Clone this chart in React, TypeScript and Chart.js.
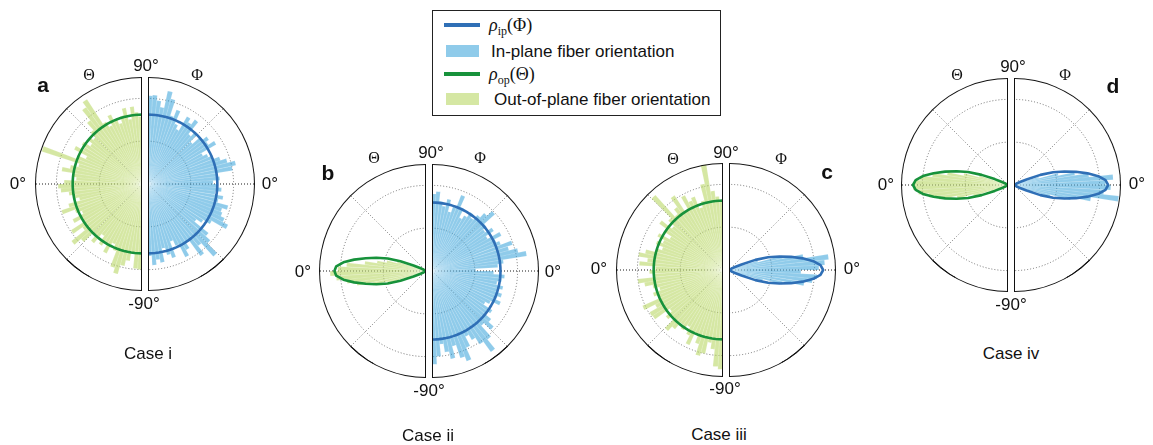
import React, { useEffect, useRef } from 'react';
import { Chart, registerables } from 'chart.js';

Chart.register(...registerables);

// ---------------- categories ----------------
// 120 clockwise bins of 3°, starting at the top of the polar plot.
const BIN_COUNT = 120;
const angleLabels: string[] = Array.from({ length: BIN_COUNT }, (_, i) => `${i * 3}°`);

// ---------------- data ----------------
// Φ histograms (in-plane): 60 bins, from Φ = +88.5° down to Φ = -88.5° (3° bins)
const aPhiHist = [1.03, 1.04, 0.98, 0.91, 1.11, 1.03, 0.84, 0.93, 0.77, 0.72, 0.91, 0.86, 0.93, 0.75, 0.82, 0.70, 0.82, 0.88, 0.84, 0.92, 0.72, 0.77, 0.82, 0.89, 0.96, 1.05, 1.00, 0.82, 0.84, 0.76,
  0.82, 0.86, 0.79, 0.89, 0.84, 0.97, 0.91, 0.93, 0.98, 1.05, 0.86, 0.77, 0.70, 0.91, 0.98, 1.14, 0.93, 1.04, 0.82, 0.89, 0.96, 0.79, 0.72, 0.91, 0.86, 0.77, 0.93, 0.89, 0.95, 0.84];
const bPhiHist = [0.90, 0.93, 0.82, 0.77, 0.86, 0.72, 0.79, 0.95, 0.82, 0.70, 0.75, 0.82, 0.77, 0.84, 0.91, 0.99, 0.82, 0.77, 0.86, 0.75, 0.91, 0.82, 0.86, 0.99, 0.93, 1.03, 1.12, 0.84, 0.77, 0.51,
  0.72, 0.85, 0.82, 0.77, 0.85, 0.79, 0.86, 0.82, 0.88, 0.77, 0.72, 0.84, 0.79, 0.89, 0.97, 0.86, 1.03, 1.17, 1.02, 0.93, 0.86, 0.98, 1.13, 1.07, 0.91, 1.05, 0.96, 0.86, 1.00, 1.09];
const cPhiHist = [0, 0, 0, 0, 0, 0, 0, 0, 0, 0, 0, 0, 0, 0, 0, 0, 0, 0, 0, 0, 0, 0,
  0.06, 0.18, 0.35, 0.64, 0.88, 1.17, 1.12, 1.05, 0.84, 1.03, 0.98, 0.89, 0.64, 0.41, 0.21, 0.07,
  0, 0, 0, 0, 0, 0, 0, 0, 0, 0, 0, 0, 0, 0, 0, 0, 0, 0, 0, 0, 0, 0];
const dPhiHist = [0, 0, 0, 0, 0, 0, 0, 0, 0, 0, 0, 0, 0, 0, 0, 0, 0, 0, 0, 0, 0, 0,
  0.05, 0.14, 0.30, 0.53, 0.72, 0.88, 1.16, 1.07, 1.13, 1.05, 1.23, 0.91, 0.68, 0.44, 0.23, 0.08,
  0, 0, 0, 0, 0, 0, 0, 0, 0, 0, 0, 0, 0, 0, 0, 0, 0, 0, 0, 0, 0, 0];

// Θ histograms (out-of-plane): 60 bins, from Θ = -88.5° up to Θ = +88.5° (3° bins)
const aThetaHist = [1.00, 0.99, 0.82, 0.91, 0.98, 1.09, 1.03, 0.84, 0.77, 0.91, 0.82, 0.86, 0.75, 0.89, 0.82, 0.96, 1.06, 0.86, 0.99, 0.82, 0.91, 0.77, 0.84, 0.99, 0.89, 0.75, 0.81, 0.86, 0.95, 0.98,
  0.91, 0.77, 0.82, 0.95, 0.86, 0.77, 1.23, 0.82, 0.72, 0.89, 0.79, 0.84, 0.75, 0.82, 0.77, 0.85, 0.96, 1.11, 1.18, 0.84, 0.77, 0.89, 0.82, 0.75, 0.83, 0.91, 0.77, 0.91, 0.84, 0.79];
const bThetaHist = [0, 0, 0, 0, 0, 0, 0, 0, 0, 0, 0, 0, 0, 0, 0, 0, 0, 0, 0, 0, 0,
  0.04, 0.09, 0.26, 0.47, 0.64, 0.82, 0.93, 1.05, 1.12, 1.03, 0.93, 0.72, 0.58, 0.47, 0.35, 0.18, 0.07,
  0, 0, 0, 0, 0, 0, 0, 0, 0, 0, 0, 0, 0, 0, 0, 0, 0, 0, 0, 0, 0, 0];
const cThetaHist = [1.16, 1.13, 0.93, 0.86, 1.00, 1.04, 0.91, 0.82, 0.96, 0.86, 0.77, 0.84, 0.79, 0.89, 0.96, 0.82, 0.86, 0.77, 0.98, 0.99, 0.89, 1.03, 0.82, 0.86, 0.77, 0.84, 0.93, 1.00, 0.82, 0.86,
  0.79, 0.98, 0.89, 1.00, 0.93, 0.82, 0.75, 0.84, 0.77, 0.86, 0.72, 0.82, 0.92, 0.77, 0.86, 1.18, 0.84, 0.91, 1.04, 0.82, 0.98, 0.89, 0.92, 0.77, 0.84, 1.03, 1.25, 0.93, 0.86, 0.82];
const dThetaHist = [0, 0, 0, 0, 0, 0, 0, 0, 0, 0, 0, 0, 0, 0, 0, 0, 0, 0, 0, 0, 0, 0,
  0.07, 0.21, 0.42, 0.61, 0.82, 0.93, 1.05, 1.11, 1.10, 1.03, 0.89, 0.72, 0.53, 0.35, 0.16, 0.06,
  0, 0, 0, 0, 0, 0, 0, 0, 0, 0, 0, 0, 0, 0, 0, 0, 0, 0, 0, 0, 0, 0];

// ρ curves: 61 samples every 3°. ρ_ip from Φ = +90° to -90°, ρ_op from Θ = -90° to +90°
const aPhiRho = [0.81, 0.81, 0.81, 0.81, 0.81, 0.81, 0.81, 0.81, 0.81, 0.81, 0.81, 0.81, 0.81, 0.81, 0.81, 0.81, 0.81, 0.81, 0.81, 0.81,
  0.81, 0.81, 0.81, 0.81, 0.81, 0.81, 0.81, 0.81, 0.81, 0.81, 0.81, 0.81, 0.81, 0.81, 0.81, 0.81, 0.81, 0.81, 0.81, 0.81,
  0.81, 0.81, 0.81, 0.81, 0.81, 0.81, 0.81, 0.81, 0.81, 0.81, 0.81, 0.81, 0.81, 0.81, 0.81, 0.81, 0.81, 0.81, 0.81, 0.81, 0.81];
const aThetaRho = [0.81, 0.81, 0.81, 0.81, 0.81, 0.81, 0.81, 0.81, 0.81, 0.81, 0.81, 0.81, 0.81, 0.81, 0.81, 0.81, 0.81, 0.81, 0.81, 0.81,
  0.81, 0.81, 0.81, 0.81, 0.81, 0.81, 0.81, 0.81, 0.81, 0.81, 0.81, 0.81, 0.81, 0.81, 0.81, 0.81, 0.81, 0.81, 0.81, 0.81,
  0.81, 0.81, 0.81, 0.81, 0.81, 0.81, 0.81, 0.81, 0.81, 0.81, 0.81, 0.81, 0.81, 0.81, 0.81, 0.81, 0.81, 0.81, 0.81, 0.81, 0.81];
const bPhiRho = [0.80, 0.80, 0.80, 0.80, 0.80, 0.80, 0.80, 0.80, 0.80, 0.80, 0.80, 0.80, 0.80, 0.80, 0.80, 0.80, 0.80, 0.80, 0.80, 0.80,
  0.80, 0.80, 0.80, 0.80, 0.80, 0.80, 0.80, 0.80, 0.80, 0.80, 0.80, 0.80, 0.80, 0.80, 0.80, 0.80, 0.80, 0.80, 0.80, 0.80,
  0.80, 0.80, 0.80, 0.80, 0.80, 0.80, 0.80, 0.80, 0.80, 0.80, 0.80, 0.80, 0.80, 0.80, 0.80, 0.80, 0.80, 0.80, 0.80, 0.80, 0.80];
const bThetaRho = [0, 0, 0, 0, 0, 0, 0, 0, 0, 0, 0, 0, 0, 0, 0, 0, 0, 0, 0, 0,
  0.02, 0.07, 0.16, 0.32, 0.47, 0.60, 0.72, 0.85, 0.97, 1.05, 1.07, 1.05, 0.97, 0.85, 0.72, 0.60, 0.47, 0.32, 0.16, 0.07, 0.02,
  0, 0, 0, 0, 0, 0, 0, 0, 0, 0, 0, 0, 0, 0, 0, 0, 0, 0, 0, 0];
const cPhiRho = [0, 0, 0, 0, 0, 0, 0, 0, 0, 0, 0, 0, 0, 0, 0, 0, 0, 0, 0, 0,
  0.02, 0.07, 0.16, 0.33, 0.48, 0.61, 0.74, 0.87, 0.99, 1.07, 1.10, 1.07, 0.99, 0.87, 0.74, 0.61, 0.48, 0.33, 0.16, 0.07, 0.02,
  0, 0, 0, 0, 0, 0, 0, 0, 0, 0, 0, 0, 0, 0, 0, 0, 0, 0, 0, 0];
const cThetaRho = [0.81, 0.81, 0.81, 0.81, 0.81, 0.81, 0.81, 0.81, 0.81, 0.81, 0.81, 0.81, 0.81, 0.81, 0.81, 0.81, 0.81, 0.81, 0.81, 0.81,
  0.81, 0.81, 0.81, 0.81, 0.81, 0.81, 0.81, 0.81, 0.81, 0.81, 0.81, 0.81, 0.81, 0.81, 0.81, 0.81, 0.81, 0.81, 0.81, 0.81,
  0.81, 0.81, 0.81, 0.81, 0.81, 0.81, 0.81, 0.81, 0.81, 0.81, 0.81, 0.81, 0.81, 0.81, 0.81, 0.81, 0.81, 0.81, 0.81, 0.81, 0.81];
const dPhiRho = [0, 0, 0, 0, 0, 0, 0, 0, 0, 0, 0, 0, 0, 0, 0, 0, 0, 0, 0, 0,
  0.02, 0.07, 0.16, 0.33, 0.48, 0.61, 0.74, 0.87, 0.99, 1.07, 1.10, 1.07, 0.99, 0.87, 0.74, 0.61, 0.48, 0.33, 0.16, 0.07, 0.02,
  0, 0, 0, 0, 0, 0, 0, 0, 0, 0, 0, 0, 0, 0, 0, 0, 0, 0, 0, 0];
const dThetaRho = [0, 0, 0, 0, 0, 0, 0, 0, 0, 0, 0, 0, 0, 0, 0, 0, 0, 0, 0, 0,
  0.02, 0.07, 0.17, 0.33, 0.49, 0.62, 0.75, 0.88, 1.00, 1.08, 1.11, 1.08, 1.00, 0.88, 0.75, 0.62, 0.49, 0.33, 0.17, 0.07, 0.02,
  0, 0, 0, 0, 0, 0, 0, 0, 0, 0, 0, 0, 0, 0, 0, 0, 0, 0, 0, 0];

const caseNames = ['Case i', 'Case ii', 'Case iii', 'Case iv'];
const caseLetters = ['a', 'b', 'c', 'd'];

// ---------------- styles ----------------
const IP_LINE = '#2f6fb6';
const OP_LINE = '#17923b';
const IP_BAR = 'rgba(40,155,215,0.52)';
const OP_BAR = 'rgba(178,212,88,0.55)';
const SANS = '"Liberation Sans", Arial, Helvetica, sans-serif';
const SERIF = '"Liberation Serif", "DejaVu Serif", "Times New Roman", serif';
const R = 107;
const R_MAX = 1.25;

type Side = 'L' | 'R';

function HalfPolar(props: { side: Side; cx: number; cy: number; hist: number[]; rho: number[]; barColor: string; lineColor: string }) {
  const { side, cx, cy, hist, rho, barColor, lineColor } = props;
  const ref = useRef<HTMLCanvasElement | null>(null);

  useEffect(() => {
    const canvas = ref.current;
    if (!canvas) return;
    const bars: number[] = new Array(BIN_COUNT).fill(0);
    const line: (number | null)[] = new Array(BIN_COUNT).fill(null);
    if (side === 'R') {
      for (let i = 0; i < 60; i++) bars[i] = hist[i];
      for (let i = 0; i <= 60; i++) line[i] = rho[i];
    } else {
      for (let j = 0; j < 60; j++) bars[60 + j] = hist[j];
      for (let k = 0; k <= 60; k++) line[(60 + k) % BIN_COUNT] = rho[k];
    }
    const chart = new Chart(canvas, {
      type: 'polarArea',
      data: {
        labels: angleLabels,
        datasets: [
          {
            type: 'radar',
            data: line,
            borderColor: lineColor,
            borderWidth: 2.6,
            pointRadius: 0,
            pointHoverRadius: 0,
            fill: false,
            tension: 0,
            spanGaps: false,
            borderJoinStyle: 'round',
            borderCapStyle: 'round',
          },
          {
            type: 'polarArea',
            data: bars,
            backgroundColor: barColor,
            borderColor: 'rgba(255,255,255,0.5)',
            borderWidth: 0.25,
          },
        ],
      } as any,
      options: {
        responsive: false,
        maintainAspectRatio: false,
        animation: false,
        events: [],
        layout: { padding: 0 },
        plugins: { legend: { display: false }, tooltip: { enabled: false } },
        scales: {
          r: {
            min: 0,
            max: R_MAX,
            startAngle: 0,
            ticks: { display: false, stepSize: 0.25 },
            pointLabels: { display: false },
            grid: {
              circular: true,
              lineWidth: 1,
              color: (c: any) => {
                const v = c.tick ? c.tick.value : 0;
                return Math.abs(v - 0.5) < 1e-6 || Math.abs(v - 1) < 1e-6 ? '#6f6f6f' : 'rgba(0,0,0,0)';
              },
            },
            border: { dash: [1, 2] },
            angleLines: {
              display: true,
              color: (c: any) => (c.index === 30 || c.index === 90 ? '#1a1a1a' : '#7a7a7a'),
              lineWidth: (c: any) => (c.index % 15 === 0 && c.index % 60 !== 0 ? 1 : 0),
              borderDash: [1, 2],
            },
          },
        },
      } as any,
    });
    return () => chart.destroy();
  }, [side, hist, rho, barColor, lineColor]);

  const left = side === 'L' ? cx - R : cx;
  const radius = side === 'L' ? `${R}px 0 0 ${R}px` : `0 ${R}px ${R}px 0`;
  return (
    <>
      <div style={{ position: 'absolute', left, top: cy - R, width: R, height: 2 * R, overflow: 'hidden', borderRadius: radius }}>
        <canvas
          ref={ref}
          width={2 * R}
          height={2 * R}
          style={{ position: 'absolute', left: side === 'L' ? 0 : -R, top: 0, width: 2 * R, height: 2 * R }}
        />
      </div>
      <div
        style={{
          position: 'absolute', left, top: cy - R, width: R, height: 2 * R, boxSizing: 'border-box',
          border: '1px solid #111', borderRadius: radius, pointerEvents: 'none',
        }}
      />
    </>
  );
}

function Txt(props: { x: number; y: number; children: React.ReactNode; size?: number; family?: string; bold?: boolean }) {
  const { x, y, children, size = 17, family = SANS, bold = false } = props;
  return (
    <div
      style={{
        position: 'absolute', left: x, top: y, transform: 'translate(-50%, -50%)', whiteSpace: 'nowrap',
        fontFamily: family, fontSize: size, fontWeight: bold ? 700 : 400, lineHeight: 1, color: '#111',
      }}
    >
      {children}
    </div>
  );
}

const panels = [
  { cxL: 142, cxR: 148, cy: 184, thetaHist: aThetaHist, thetaRho: aThetaRho, phiHist: aPhiHist, phiRho: aPhiRho,
    letter: [43, 84], theta: [89, 75], top: [146, 65], phi: [197, 75], zeroL: [18, 183], zeroR: [270, 183], bottom: [144, 303], name: [148, 353] },
  { cxL: 426, cxR: 432, cy: 271, thetaHist: bThetaHist, thetaRho: bThetaRho, phiHist: bPhiHist, phiRho: bPhiRho,
    letter: [328, 172], theta: [374, 158], top: [431, 152], phi: [480, 158], zeroL: [303, 271], zeroR: [553, 271], bottom: [429, 390], name: [428, 435] },
  { cxL: 723, cxR: 729, cy: 270, thetaHist: cThetaHist, thetaRho: cThetaRho, phiHist: cPhiHist, phiRho: cPhiRho,
    letter: [827, 171], theta: [673, 159], top: [726, 152], phi: [781, 159], zeroL: [599, 268], zeroR: [852, 268], bottom: [725, 388], name: [719, 434] },
  { cxL: 1008, cxR: 1014, cy: 185, thetaHist: dThetaHist, thetaRho: dThetaRho, phiHist: dPhiHist, phiRho: dPhiRho,
    letter: [1113, 85], theta: [957, 75], top: [1013, 66], phi: [1065, 75], zeroL: [886, 184], zeroR: [1137, 183], bottom: [1011, 304], name: [1011, 353] },
];

function Legend() {
  const rowY = [25, 51, 74, 99];
  return (
    <div style={{ position: 'absolute', left: 0, top: 0 }}>
      <div style={{ position: 'absolute', left: 432, top: 10, width: 289, height: 106, boxSizing: 'border-box', border: '1px solid #222', background: '#fff' }} />
      <div style={{ position: 'absolute', left: 444, top: rowY[0] - 2, width: 36, height: 4, background: IP_LINE }} />
      <div style={{ position: 'absolute', left: 446, top: rowY[1] - 6, width: 33, height: 12, background: IP_BAR }} />
      <div style={{ position: 'absolute', left: 444, top: rowY[2] - 2, width: 36, height: 4, background: OP_LINE }} />
      <div style={{ position: 'absolute', left: 446, top: rowY[3] - 6, width: 33, height: 12, background: OP_BAR }} />
      <div style={{ position: 'absolute', left: 489, top: rowY[0], transform: 'translateY(-50%)', whiteSpace: 'nowrap', fontFamily: SERIF, fontSize: 18, lineHeight: 1, color: '#111' }}>
        <span style={{ fontStyle: 'italic' }}>ρ</span>
        <span style={{ fontSize: 12, position: 'relative', top: 4 }}>ip</span>
        <span>(Φ)</span>
      </div>
      <div style={{ position: 'absolute', left: 491, top: rowY[1], transform: 'translateY(-50%)', whiteSpace: 'nowrap', fontFamily: SANS, fontSize: 17, lineHeight: 1, color: '#111' }}>
        In-plane fiber orientation
      </div>
      <div style={{ position: 'absolute', left: 489, top: rowY[2], transform: 'translateY(-50%)', whiteSpace: 'nowrap', fontFamily: SERIF, fontSize: 18, lineHeight: 1, color: '#111' }}>
        <span style={{ fontStyle: 'italic' }}>ρ</span>
        <span style={{ fontSize: 12, position: 'relative', top: 4 }}>op</span>
        <span>(Θ)</span>
      </div>
      <div style={{ position: 'absolute', left: 494, top: rowY[3], transform: 'translateY(-50%)', whiteSpace: 'nowrap', fontFamily: SANS, fontSize: 17, lineHeight: 1, color: '#111' }}>
        Out-of-plane fiber orientation
      </div>
    </div>
  );
}

export default function App() {
  return (
    <div style={{ position: 'absolute', left: 0, top: 0, width: 1153, height: 445, background: '#fff', overflow: 'hidden' }}>
      {panels.map((p, i) => (
        <React.Fragment key={i}>
          <HalfPolar side="L" cx={p.cxL} cy={p.cy} hist={p.thetaHist} rho={p.thetaRho} barColor={OP_BAR} lineColor={OP_LINE} />
          <HalfPolar side="R" cx={p.cxR} cy={p.cy} hist={p.phiHist} rho={p.phiRho} barColor={IP_BAR} lineColor={IP_LINE} />
          <Txt x={p.letter[0]} y={p.letter[1]} size={21} bold>{caseLetters[i]}</Txt>
          <Txt x={p.theta[0]} y={p.theta[1]} size={16} family={SERIF}>Θ</Txt>
          <Txt x={p.top[0]} y={p.top[1]}>90°</Txt>
          <Txt x={p.phi[0]} y={p.phi[1]} size={16} family={SERIF}>Φ</Txt>
          <Txt x={p.zeroL[0]} y={p.zeroL[1]}>0°</Txt>
          <Txt x={p.zeroR[0]} y={p.zeroR[1]}>0°</Txt>
          <Txt x={p.bottom[0]} y={p.bottom[1]}>-90°</Txt>
          <Txt x={p.name[0]} y={p.name[1]}>{caseNames[i]}</Txt>
        </React.Fragment>
      ))}
      <Legend />
    </div>
  );
}
